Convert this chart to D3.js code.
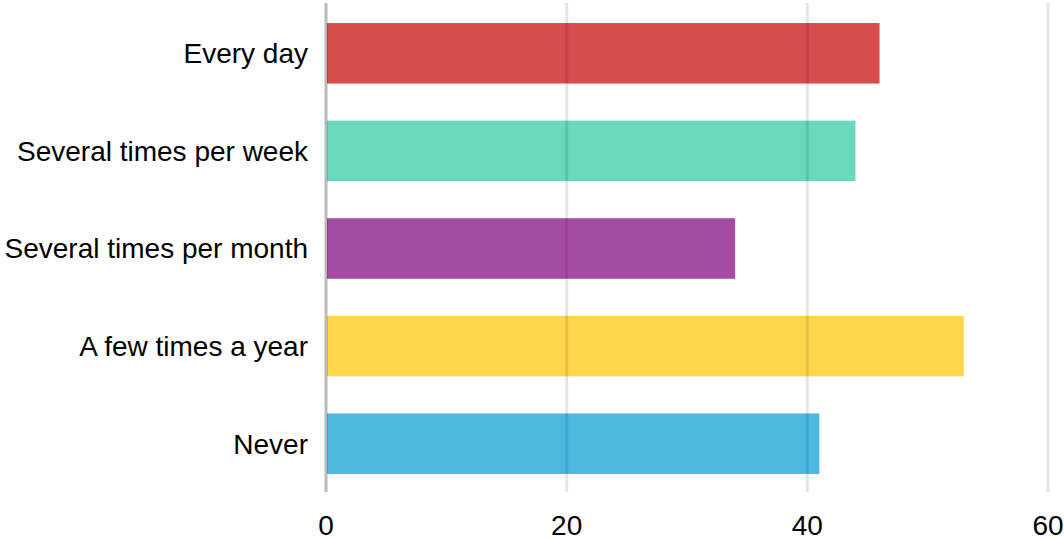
<!DOCTYPE html>
<html>
<head>
<meta charset="utf-8">
<script src="https://cdn.jsdelivr.net/npm/d3@7"></script>
<style>
  body { margin: 0; background: #fff; }
  svg { display: block; font-family: "Liberation Sans", Arial, sans-serif; }
</style>
</head>
<body>
<script>
// Chart data
const categories = ["Every day", "Several times per week", "Several times per month", "A few times a year", "Never"];
const values = [46, 44, 34, 53, 41];
const colors = ["#d64c4f", "#69d8bd", "#a54ca2", "#fed54b", "#4cb8e0"];
const ticks = [0, 20, 40, 60];

const width = 1064;
const height = 539;
const marginLeft = 326;
const marginRight = 16;

const svg = d3.select("body").append("svg")
  .attr("width", width)
  .attr("height", height);

const x = d3.scaleLinear().domain([0, 60]).range([marginLeft, width - marginRight]);
const y = d3.scaleBand().domain(categories).range([4.5, 492.5]).paddingInner(0.38).paddingOuter(0.19);

// Bars
svg.append("g")
  .selectAll("rect")
  .data(categories)
  .join("rect")
  .attr("x", x(0) + 1)
  .attr("y", d => y(d))
  .attr("width", (d, i) => x(values[i]) - x(0) - 1)
  .attr("height", y.bandwidth())
  .attr("fill", (d, i) => colors[i]);

// Gridlines (drawn over the bars, translucent)
svg.append("g")
  .selectAll("line")
  .data(ticks)
  .join("line")
  .attr("x1", d => x(d))
  .attr("x2", d => x(d))
  .attr("y1", 3)
  .attr("y2", 492)
  .attr("stroke", "#000")
  .attr("stroke-opacity", d => d === 0 ? 0.27 : 0.1)
  .attr("stroke-width", 3);

// Tick labels
svg.append("g")
  .selectAll("text")
  .data(ticks)
  .join("text")
  .attr("x", d => x(d))
  .attr("y", 535)
  .attr("text-anchor", "middle")
  .attr("font-size", 28)
  .attr("fill", "#000")
  .text(d => d);

// Category labels
svg.append("g")
  .selectAll("text")
  .data(categories)
  .join("text")
  .attr("x", 308)
  .attr("y", d => y(d) + y.bandwidth() / 2)
  .attr("dy", "0.35em")
  .attr("text-anchor", "end")
  .attr("font-size", 28)
  .attr("fill", "#000")
  .text(d => d);
</script>
</body>
</html>
